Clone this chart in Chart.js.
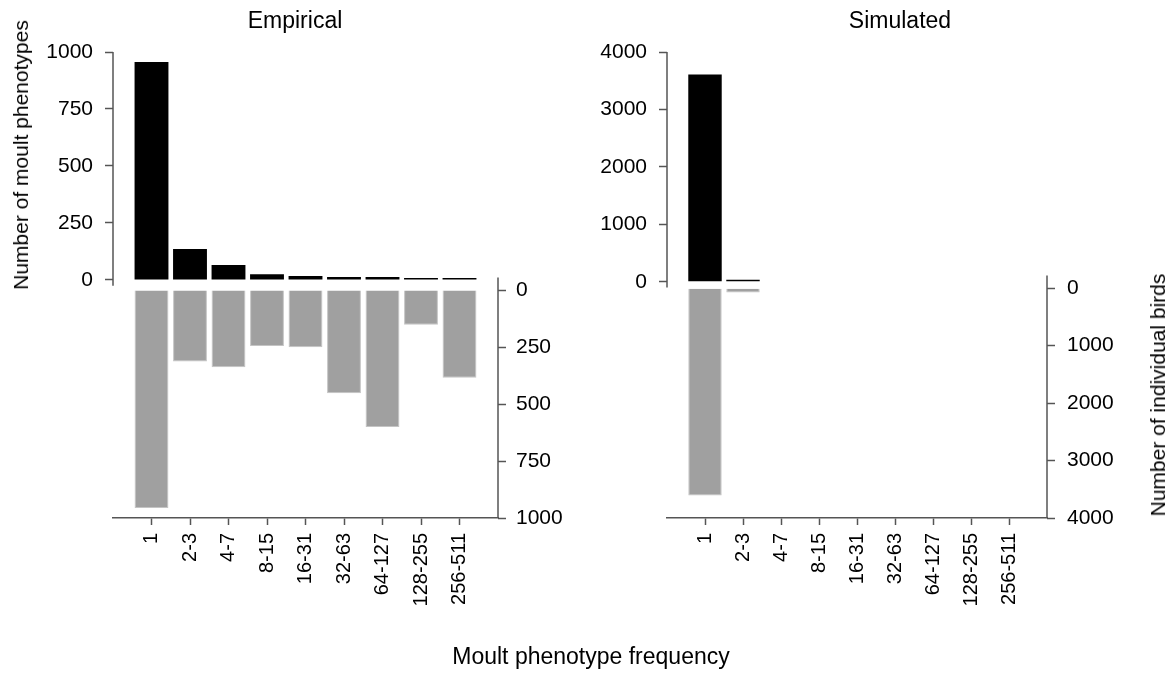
<!DOCTYPE html>
<html>
<head>
<meta charset="utf-8">
<script src="https://cdn.jsdelivr.net/npm/chart.js@4.4.1/dist/chart.umd.min.js"></script>
<style>
  body { margin: 0; background: #fff; }
  #wrap { position: relative; width: 1175px; height: 675px; overflow: hidden; font-family: 'Liberation Sans', Arial, sans-serif; color: #000; }
  canvas { position: absolute; top: 0; }
  .txt { position: absolute; white-space: nowrap; transform: translate(-50%, -50%); font-size: 23px; }
  .rot { transform: translate(-50%, -50%) rotate(-90deg); font-size: 21px; }
</style>
</head>
<body>
<div id="wrap">
  <canvas id="empirical" width="580" height="675" style="left:0"></canvas>
  <canvas id="simulated" width="595" height="675" style="left:580px"></canvas>
  <div class="txt" style="left:295px; top:20px">Empirical</div>
  <div class="txt" style="left:900px; top:20px">Simulated</div>
  <div class="txt rot" style="left:21px; top:155px">Number of moult phenotypes</div>
  <div class="txt rot" style="left:1158px; top:395px">Number of individual birds</div>
  <div class="txt" style="left:591px; top:656px">Moult phenotype frequency</div>
</div>
<script>
// categories and values
const categories = ['1', '2-3', '4-7', '8-15', '16-31', '32-63', '64-127', '128-255', '256-511'];
const empPhenotypes = [956, 136, 66, 25, 17, 13, 13, 7, 7];
const empBirds = [956, 314, 339, 246, 251, 453, 601, 152, 385];
const simPhenotypes = [3610, 30, 0, 0, 0, 0, 0, 0, 0];
const simBirds = [3610, 75, 0, 0, 0, 0, 0, 0, 0];
const empTicks = [0, 250, 500, 750, 1000];
const simTicks = [0, 1000, 2000, 3000, 4000];

const AXIS = '#555';
Chart.defaults.font.family = "'Liberation Sans', Arial, sans-serif";

// empty slot on each side so the bars sit inside the axis frame like in R
function padded(values) {
    return [null].concat(values.map(v => v > 0 ? v : null), [null]);
}

// y axis lines only cover their own half of the plot
const axisLines = {
    id: 'axisLines',
    afterDraw(chart) {
        const { ctx, chartArea, scales } = chart;
        const top = scales.y.max;
        ctx.save();
        ctx.strokeStyle = AXIS;
        ctx.lineWidth = 1.5;
        ctx.beginPath();
        ctx.moveTo(chartArea.left, scales.y.getPixelForValue(top));
        ctx.lineTo(chartArea.left, scales.y.getPixelForValue(-0.025 * top));
        ctx.moveTo(chartArea.right, scales.y2.getPixelForValue(-0.055 * top));
        ctx.lineTo(chartArea.right, scales.y2.getPixelForValue(top));
        ctx.stroke();
        ctx.restore();
    }
};

function yScale(position, tickValues, axisMin, width, pad) {
    return {
        position: position,
        reverse: position === 'right',
        min: axisMin,
        max: tickValues[tickValues.length - 1],
        border: { display: false },
        grid: { drawOnChartArea: false, tickLength: 8, tickWidth: 1.5, tickColor: AXIS },
        ticks: { color: '#000', padding: pad, font: { size: 21 }, callback: v => String(v) },
        afterBuildTicks: s => { s.ticks = tickValues.map(v => ({ value: v })); },
        afterFit: s => { s.width = width; }
    };
}

function makePanel(id, phenotypes, birds, tickValues, axisMin, leftWidth, rightWidth, rightPad) {
    const last = categories.length + 1;
    return new Chart(document.getElementById(id), {
        type: 'bar',
        data: {
            labels: [''].concat(categories, ['']),
            datasets: [
                { data: padded(phenotypes), yAxisID: 'y', backgroundColor: '#000', minBarLength: 2 },
                { data: padded(birds), yAxisID: 'y2', backgroundColor: '#a0a0a0', borderColor: '#c4c4c4', borderWidth: 1, minBarLength: 2 }
            ]
        },
        options: {
            responsive: false,
            animation: false,
            layout: { padding: { top: 52 } },
            plugins: { legend: { display: false }, tooltip: { enabled: false }, title: { display: false } },
            datasets: { bar: { grouped: false, barPercentage: 0.88, categoryPercentage: 1 } },
            scales: {
                x: {
                    offset: false,
                    grid: {
                        offset: false,
                        drawOnChartArea: false,
                        tickLength: 7,
                        tickWidth: 1.5,
                        tickColor: c => (c.index === 0 || c.index === last) ? 'rgba(0,0,0,0)' : AXIS
                    },
                    border: { color: AXIS, width: 1.5 },
                    ticks: { autoSkip: false, minRotation: 90, maxRotation: 90, padding: 8, color: '#000', font: { size: 20 } },
                    afterFit: s => { s.height = 157; }
                },
                y: yScale('left', tickValues, axisMin, leftWidth, 12),
                y2: yScale('right', tickValues, axisMin, rightWidth, rightPad)
            }
        },
        plugins: [axisLines]
    });
}

makePanel('empirical', empPhenotypes, empBirds, empTicks, -1044, 113, 82, 10);
makePanel('simulated', simPhenotypes, simBirds, simTicks, -4112, 87, 128, 12);
</script>
</body>
</html>
